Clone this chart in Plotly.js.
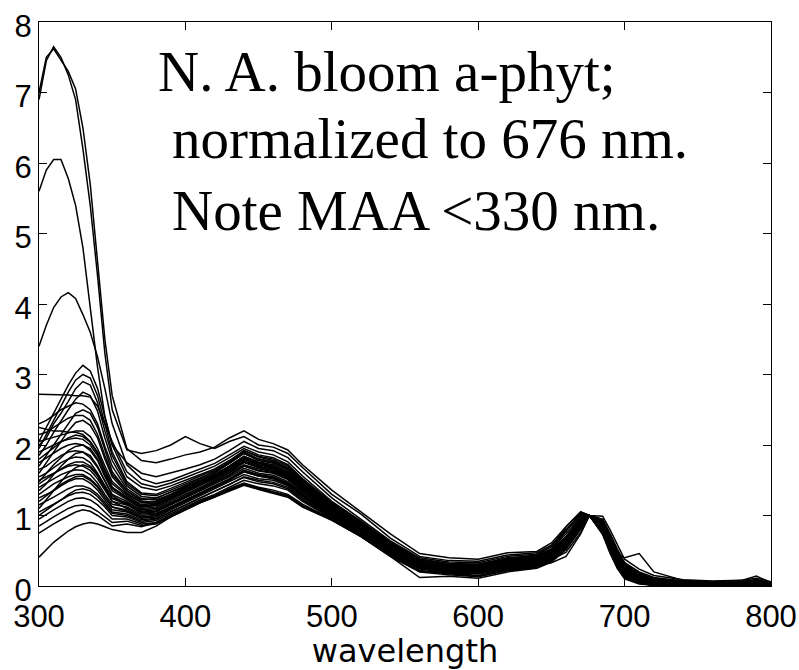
<!DOCTYPE html>
<html>
<head>
<meta charset="utf-8">
<script src="https://cdn.plot.ly/plotly-3.0.1.min.js"></script>
<style>html,body{margin:0;padding:0;background:#fff;}#chart{width:799px;height:670px;}</style>
</head>
<body>
<div id="chart"></div>
<script>
// wavelength grid (nm)
const wavelength = [300,305,310,315,320,325,330,335,340,345,350,360,370,380,390,400,410,420,430,440,450,460,470,480,500,520,540,560,580,600,620,640,650,660,670,676,685,690,695,700,710,720,740,760,780,790,800];

// a-phyt spectra normalized to 676 nm
const s01 = [6.90,7.45,7.65,7.50,7.25,6.90,6.20,5.40,4.40,3.30,2.50, 1.93,1.88,1.92,2.00,2.12,2.02,1.95,2.05,2.12,2.00,1.97,1.88,1.68, 1.30,1.02,0.68,0.42,0.36,0.35,0.44,0.47, 0.58,0.80,1.02,1.00,0.92,0.72,0.50,0.32, 0.18,0.10,0.06,0.05,0.06,0.09,0.04];
const s02 = [7.00,7.50,7.62,7.45,7.30,7.05,6.50,5.70,4.60,3.50,2.70, 1.95,1.78,1.75,1.80,1.86,1.90,1.97,2.10,2.20,2.08,2.02,1.93,1.72, 1.36,1.05,0.74,0.46,0.40,0.38,0.47,0.49, 0.61,0.84,1.05,1.00,0.99,0.80,0.58,0.38, 0.24,0.15,0.09,0.07,0.08,0.11,0.06];
const s03 = [5.60,5.90,6.05,6.05,5.78,5.40,4.80,3.95,3.10,2.40,2.00, 1.75,1.60,1.55,1.60,1.66,1.72,1.80,1.92,2.05,1.95,1.92,1.82,1.62, 1.25,0.95,0.64,0.40,0.34,0.33,0.42,0.45, 0.56,0.78,1.00,1.00,0.95,0.74,0.52,0.33, 0.20,0.12,0.07,0.05,0.06,0.08,0.04];
const s04 = [3.40,3.70,3.95,4.10,4.16,4.08,3.85,3.60,3.25,2.80,2.30, 1.72,1.52,1.45,1.50,1.58,1.65,1.74,1.86,1.98,1.90,1.86,1.76,1.56, 1.20,0.92,0.62,0.38,0.32,0.31,0.40,0.43, 0.53,0.74,0.98,1.00,0.92,0.70,0.48,0.30, 0.17,0.10,0.06,0.04,0.05,0.07,0.03];
const s05 = [2.72,2.72,2.71,2.72,2.71,2.70,2.70,2.68,2.55,2.30,2.05, 1.62,1.45,1.40,1.46,1.54,1.62,1.70,1.82,1.95,1.86,1.82,1.72,1.52, 1.18,0.90,0.60,0.36,0.30,0.29,0.37,0.41, 0.50,0.70,0.96,1.00,0.88,0.66,0.44,0.27, 0.14,0.08,0.05,0.04,0.05,0.07,0.03];
const s06 = [2.05,2.25,2.45,2.65,2.85,3.02,3.13,3.05,2.80,2.40,2.00, 1.55,1.40,1.36,1.42,1.50,1.58,1.66,1.78,1.92,1.83,1.78,1.68,1.50, 1.16,0.88,0.58,0.35,0.29,0.28,0.36,0.40, 0.49,0.68,0.95,1.00,0.87,0.64,0.42,0.26, 0.13,0.08,0.04,0.03,0.04,0.06,0.02];
const s07 = [1.95,2.15,2.35,2.55,2.75,2.92,3.00,2.95,2.70,2.30,1.90, 1.48,1.32,1.30,1.38,1.47,1.56,1.64,1.76,1.90,1.80,1.76,1.65,1.48, 1.15,0.87,0.57,0.34,0.28,0.27,0.35,0.39, 0.48,0.66,0.94,1.00,0.86,0.63,0.41,0.25, 0.12,0.07,0.04,0.03,0.04,0.06,0.02];
const s08 = [2.00,2.10,2.30,2.45,2.62,2.80,2.90,2.85,2.60,2.20,1.85, 1.45,1.30,1.28,1.36,1.45,1.54,1.62,1.74,1.88,1.78,1.74,1.64,1.46, 1.14,0.86,0.56,0.33,0.27,0.26,0.34,0.38, 0.47,0.65,0.93,1.00,0.85,0.62,0.40,0.24, 0.11,0.06,0.03,0.02,0.03,0.05,0.02];
const s09 = [1.85,2.00,2.18,2.35,2.50,2.65,2.75,2.70,2.48,2.10,1.78, 1.42,1.27,1.25,1.33,1.42,1.50,1.58,1.70,1.84,1.75,1.70,1.60,1.44, 1.12,0.84,0.55,0.32,0.27,0.25,0.33,0.37, 0.46,0.64,0.92,1.00,0.84,0.61,0.39,0.23, 0.10,0.06,0.03,0.02,0.03,0.05,0.01];
const s10 = [2.30,2.35,2.42,2.50,2.55,2.60,2.58,2.50,2.30,1.98,1.70, 1.38,1.24,1.22,1.30,1.40,1.48,1.57,1.69,1.82,1.74,1.69,1.58,1.42, 1.10,0.83,0.55,0.32,0.26,0.25,0.32,0.36, 0.45,0.63,0.91,1.00,0.83,0.60,0.38,0.22, 0.10,0.05,0.03,0.02,0.03,0.05,0.01];
const s11 = [1.70,1.85,2.00,2.15,2.30,2.45,2.50,2.45,2.25,1.92,1.62, 1.35,1.20,1.20,1.28,1.38,1.46,1.55,1.66,1.80,1.72,1.67,1.56,1.40, 1.09,0.82,0.54,0.31,0.26,0.24,0.32,0.36, 0.44,0.62,0.90,1.00,0.82,0.59,0.37,0.21, 0.09,0.05,0.02,0.02,0.03,0.04,0.01];
const s12 = [1.60,1.75,1.90,2.05,2.20,2.32,2.35,2.28,2.10,1.80,1.55, 1.32,1.18,1.17,1.25,1.35,1.43,1.52,1.63,1.76,1.69,1.64,1.54,1.38, 1.08,0.81,0.54,0.31,0.25,0.24,0.31,0.35, 0.44,0.61,0.90,1.00,0.81,0.58,0.36,0.20, 0.09,0.04,0.02,0.01,0.02,0.04,0.01];
const s13 = [2.25,2.22,2.20,2.20,2.18,2.18,2.15,2.05,1.90,1.65,1.45, 1.28,1.15,1.18,1.28,1.38,1.48,1.58,1.70,1.84,1.76,1.72,1.62,1.45, 1.13,0.85,0.57,0.34,0.28,0.27,0.34,0.38, 0.47,0.66,0.93,1.00,0.86,0.64,0.42,0.26, 0.14,0.08,0.05,0.04,0.05,0.07,0.03];
const s14 = [2.05,2.08,2.12,2.15,2.18,2.20,2.20,2.12,1.95,1.70,1.48, 1.30,1.18,1.20,1.30,1.40,1.50,1.60,1.74,1.88,1.80,1.76,1.66,1.48, 1.16,0.88,0.60,0.36,0.30,0.29,0.36,0.40, 0.49,0.69,0.96,1.00,0.88,0.66,0.44,0.28, 0.15,0.09,0.05,0.04,0.05,0.08,0.03];
const s15 = [1.90,1.95,2.00,2.05,2.08,2.10,2.08,2.00,1.85,1.62,1.40, 1.25,1.12,1.15,1.25,1.35,1.44,1.53,1.64,1.78,1.70,1.66,1.56,1.40, 1.10,0.83,0.56,0.33,0.27,0.26,0.33,0.37, 0.46,0.64,0.92,1.00,0.85,0.62,0.40,0.24, 0.12,0.07,0.04,0.03,0.04,0.06,0.02];
const s16 = [1.75,1.82,1.88,1.95,2.00,2.02,2.00,1.92,1.78,1.55,1.35, 1.22,1.10,1.12,1.22,1.32,1.42,1.52,1.63,1.76,1.68,1.64,1.55,1.38, 1.08,0.82,0.55,0.32,0.27,0.25,0.32,0.36, 0.45,0.63,0.91,1.00,0.84,0.61,0.39,0.23, 0.11,0.06,0.03,0.03,0.04,0.05,0.02];
const s17 = [1.65,1.70,1.78,1.85,1.90,1.92,1.90,1.82,1.68,1.48,1.30, 1.20,1.08,1.10,1.20,1.30,1.40,1.50,1.60,1.72,1.66,1.62,1.53,1.36, 1.06,0.80,0.53,0.31,0.26,0.24,0.31,0.35, 0.44,0.62,0.90,1.00,0.83,0.60,0.38,0.22, 0.10,0.05,0.03,0.02,0.03,0.05,0.01];
const s18 = [1.55,1.60,1.68,1.75,1.80,1.83,1.82,1.75,1.60,1.42,1.25, 1.18,1.06,1.08,1.18,1.28,1.38,1.48,1.58,1.70,1.63,1.60,1.51,1.34, 1.05,0.79,0.52,0.30,0.25,0.23,0.30,0.34, 0.43,0.61,0.89,1.00,0.82,0.59,0.37,0.21, 0.09,0.05,0.02,0.02,0.03,0.04,0.01];
const s19 = [1.50,1.55,1.60,1.65,1.70,1.72,1.70,1.64,1.52,1.36,1.20, 1.15,1.04,1.05,1.15,1.25,1.35,1.45,1.55,1.67,1.60,1.57,1.48,1.32, 1.04,0.78,0.51,0.29,0.24,0.22,0.29,0.33, 0.42,0.60,0.88,1.00,0.81,0.58,0.36,0.20, 0.08,0.04,0.02,0.01,0.02,0.04,0.01];
const s20 = [1.40,1.46,1.52,1.58,1.62,1.65,1.64,1.58,1.46,1.30,1.16, 1.12,1.02,1.03,1.12,1.22,1.32,1.42,1.52,1.64,1.58,1.55,1.46,1.30, 1.02,0.77,0.50,0.28,0.23,0.21,0.28,0.32, 0.41,0.59,0.88,1.00,0.80,0.57,0.35,0.19, 0.08,0.04,0.02,0.01,0.02,0.03,0.00];
const s21 = [1.30,1.38,1.45,1.50,1.55,1.58,1.58,1.52,1.42,1.26,1.12, 1.08,0.98,1.00,1.10,1.20,1.30,1.40,1.50,1.62,1.56,1.53,1.44,1.28, 1.00,0.75,0.48,0.27,0.22,0.20,0.27,0.31, 0.40,0.58,0.87,1.00,0.79,0.56,0.34,0.18, 0.07,0.03,0.01,0.01,0.02,0.03,0.00];
const s22 = [1.25,1.30,1.35,1.42,1.48,1.52,1.52,1.46,1.36,1.22,1.08, 1.05,0.96,0.98,1.08,1.18,1.28,1.37,1.47,1.58,1.52,1.50,1.42,1.26, 0.99,0.74,0.47,0.26,0.21,0.19,0.26,0.30, 0.39,0.57,0.86,1.00,0.78,0.55,0.33,0.17, 0.06,0.03,0.01,0.00,0.01,0.03,0.00];
const s23 = [1.15,1.20,1.26,1.32,1.38,1.42,1.42,1.38,1.30,1.18,1.05, 1.02,0.94,0.96,1.05,1.15,1.25,1.34,1.44,1.55,1.50,1.47,1.40,1.24, 0.98,0.73,0.46,0.25,0.20,0.18,0.25,0.29, 0.38,0.56,0.85,1.00,0.77,0.54,0.32,0.16, 0.06,0.02,0.01,0.00,0.01,0.02,0.00];
const s24 = [1.05,1.10,1.16,1.22,1.28,1.32,1.33,1.30,1.22,1.12,1.00, 0.98,0.90,0.93,1.02,1.12,1.22,1.30,1.40,1.50,1.45,1.42,1.36,1.20, 0.96,0.72,0.45,0.24,0.19,0.17,0.24,0.28, 0.37,0.55,0.84,1.00,0.76,0.52,0.30,0.15, 0.05,0.02,0.00,0.00,0.01,0.02,0.00];
const s25 = [0.95,1.02,1.08,1.14,1.20,1.24,1.25,1.22,1.15,1.05,0.95, 0.95,0.88,0.90,1.00,1.10,1.20,1.28,1.38,1.46,1.40,1.36,1.30,1.16, 0.95,0.72,0.44,0.22,0.18,0.15,0.23,0.27, 0.36,0.54,0.84,1.00,0.75,0.50,0.28,0.13, 0.04,0.01,0.00,0.00,0.01,0.02,0.00];
const s26 = [0.85,0.92,0.98,1.04,1.10,1.14,1.15,1.12,1.06,0.98,0.90, 0.92,0.86,0.88,0.98,1.08,1.18,1.26,1.36,1.44,1.38,1.33,1.28,1.14, 0.94,0.70,0.42,0.20,0.16,0.13,0.22,0.26, 0.35,0.52,0.82,1.00,0.74,0.48,0.26,0.12, 0.04,0.01,0.00,0.00,0.00,0.02,0.00];
const s27 = [0.75,0.82,0.88,0.94,1.00,1.05,1.08,1.06,1.00,0.92,0.85, 0.88,0.84,0.90,1.00,1.10,1.20,1.28,1.37,1.45,1.39,1.34,1.28,1.14, 0.94,0.70,0.43,0.21,0.17,0.14,0.22,0.27, 0.35,0.53,0.83,1.00,0.75,0.49,0.27,0.12, 0.04,0.01,0.00,0.00,0.00,0.02,0.00];
const s28 = [0.41,0.52,0.62,0.70,0.78,0.84,0.88,0.90,0.88,0.84,0.80, 0.76,0.76,0.85,0.98,1.08,1.18,1.26,1.35,1.43,1.37,1.32,1.26,1.12, 0.93,0.70,0.42,0.12,0.14,0.11,0.20,0.25, 0.34,0.52,0.82,1.00,0.73,0.47,0.25,0.10, 0.03,0.01,0.00,0.00,0.00,0.01,0.00];
const s29 = [1.48,1.60,1.72,1.82,1.92,1.98,2.00,1.95,1.80,1.58,1.38, 1.24,1.12,1.14,1.24,1.34,1.44,1.54,1.66,1.80,1.72,1.68,1.58,1.42, 1.11,0.84,0.57,0.35,0.30,0.30,0.38,0.42, 0.52,0.70,0.96,1.00,0.88,0.66,0.46,0.40, 0.46,0.20,0.08,0.05,0.06,0.09,0.04];
const s30 = [1.35,1.45,1.58,1.70,1.80,1.88,1.90,1.85,1.70,1.48,1.28, 1.16,1.05,1.06,1.16,1.26,1.36,1.46,1.57,1.70,1.64,1.61,1.52,1.36, 1.07,0.81,0.54,0.33,0.28,0.27,0.35,0.39, 0.48,0.66,0.94,1.00,0.90,0.70,0.48,0.30, 0.16,0.09,0.07,0.06,0.08,0.14,0.05];
const s31 = [1.10,1.22,1.35,1.48,1.60,1.68,1.72,1.68,1.56,1.38,1.20, 1.10,1.00,1.02,1.12,1.22,1.32,1.42,1.52,1.64,1.57,1.54,1.46,1.30, 1.03,0.78,0.50,0.28,0.23,0.22,0.29,0.33, 0.42,0.60,0.89,1.00,0.80,0.57,0.35,0.19, 0.08,0.04,0.02,0.02,0.03,0.05,0.01];
const s32 = [1.80,1.88,1.96,2.04,2.10,2.14,2.12,2.04,1.88,1.62,1.40, 1.26,1.14,1.16,1.26,1.36,1.46,1.56,1.68,1.82,1.74,1.70,1.60,1.43, 1.12,0.85,0.58,0.35,0.29,0.28,0.36,0.41, 0.52,0.78,1.04,1.00,0.90,0.68,0.45,0.27, 0.13,0.07,0.04,0.03,0.04,0.07,0.02];
const s33 = [1.45,1.52,1.60,1.66,1.72,1.76,1.76,1.70,1.58,1.40,1.24, 1.16,1.04,1.06,1.16,1.27,1.38,1.49,1.61,1.75,1.68,1.64,1.55,1.38, 1.07,0.80,0.53,0.31,0.25,0.24,0.31,0.35, 0.40,0.52,0.80,1.00,0.82,0.58,0.36,0.20, 0.09,0.05,0.02,0.02,0.03,0.04,0.01];
const s34 = [1.20,1.28,1.36,1.44,1.50,1.55,1.56,1.50,1.40,1.26,1.12, 1.06,0.97,1.00,1.10,1.20,1.30,1.40,1.51,1.62,1.56,1.52,1.44,1.28, 1.01,0.76,0.49,0.27,0.22,0.20,0.27,0.31, 0.37,0.48,0.76,1.00,0.78,0.55,0.33,0.17, 0.07,0.03,0.01,0.01,0.02,0.03,0.00];
const s35 = [1.00,1.08,1.15,1.22,1.30,1.36,1.38,1.35,1.27,1.15,1.03, 1.00,0.92,0.95,1.05,1.15,1.25,1.34,1.44,1.54,1.48,1.45,1.38,1.22, 0.97,0.73,0.46,0.25,0.20,0.18,0.25,0.29, 0.33,0.42,0.74,1.00,0.76,0.52,0.30,0.14, 0.05,0.02,0.01,0.00,0.01,0.02,0.00];
const s36 = [2.15,2.18,2.25,2.32,2.38,2.42,2.42,2.35,2.15,1.85,1.58, 1.35,1.22,1.24,1.33,1.43,1.52,1.62,1.75,1.92,1.84,1.80,1.70,1.52, 1.18,0.90,0.62,0.38,0.32,0.31,0.39,0.44, 0.56,0.84,1.05,1.00,0.94,0.74,0.52,0.33, 0.18,0.10,0.06,0.04,0.05,0.08,0.03];

const spectra = [s01,s02,s03,s04,s05,s06,s07,s08,s09,s10,s11,s12,s13,s14,s15,s16,s17,s18,s19,s20,s21,s22,s23,s24,s25,s26,s27,s28,s29,s30,s31,s32,s33,s34,s35,s36];

const xTicks = [300,400,500,600,700,800];
const yTicks = [0,1,2,3,4,5,6,7,8];
const xTitle = 'wavelength';
const noteLines = ['N. A. bloom a-phyt;', 'normalized to 676 nm.', 'Note MAA <330 nm.'];

spectra.forEach((s,i)=>{ if(s.length!==wavelength.length) console.error('length mismatch s'+(i+1)+': '+s.length); });

const traces = spectra.map(s => ({
  x: wavelength, y: s, type: 'scatter', mode: 'lines',
  line: {color: '#000', width: 1.5}, hoverinfo: 'skip', showlegend: false
}));

const tickFont = {family: 'Liberation Sans, Arial, sans-serif', size: 31, color: '#000'};
const axisCommon = {
  showgrid: false, zeroline: false, showline: true, linecolor: '#000', linewidth: 1,
  ticks: 'inside', ticklen: 8, tickcolor: '#000', tickwidth: 1, mirror: 'ticks',
  tickfont: tickFont
};

const layout = {
  width: 799, height: 670,
  margin: {l: 39, r: 28, t: 22, b: 84},
  paper_bgcolor: '#fff', plot_bgcolor: '#fff',
  xaxis: Object.assign({}, axisCommon, {
    range: [300, 800], tickvals: xTicks, ticktext: xTicks.map(String),
    ticklabelstandoff: 3,
    title: {text: xTitle, font: {family: 'DejaVu Sans, sans-serif', size: 32, color: '#000'}, standoff: 8}
  }),
  yaxis: Object.assign({}, axisCommon, {
    range: [0, 8], tickvals: yTicks, ticktext: yTicks.map(String),
    ticklabelshift: 4
  }),
  annotations: [
    {text: noteLines[0], xref: 'paper', yref: 'paper', x: 0.160, y: 0.913, xanchor: 'left', yanchor: 'middle', showarrow: false,
     font: {family: 'Liberation Serif, Times New Roman, serif', size: 57, color: '#000'}},
    {text: noteLines[1], xref: 'paper', yref: 'paper', x: 0.179, y: 0.7926, xanchor: 'left', yanchor: 'middle', showarrow: false,
     font: {family: 'Liberation Serif, Times New Roman, serif', size: 57, color: '#000'}},
    {text: noteLines[2], xref: 'paper', yref: 'paper', x: 0.179, y: 0.665, xanchor: 'left', yanchor: 'middle', showarrow: false,
     font: {family: 'Liberation Serif, Times New Roman, serif', size: 57, color: '#000'}}
  ]
};

Plotly.newPlot('chart', traces, layout, {staticPlot: true, displayModeBar: false});
</script>
</body>
</html>
